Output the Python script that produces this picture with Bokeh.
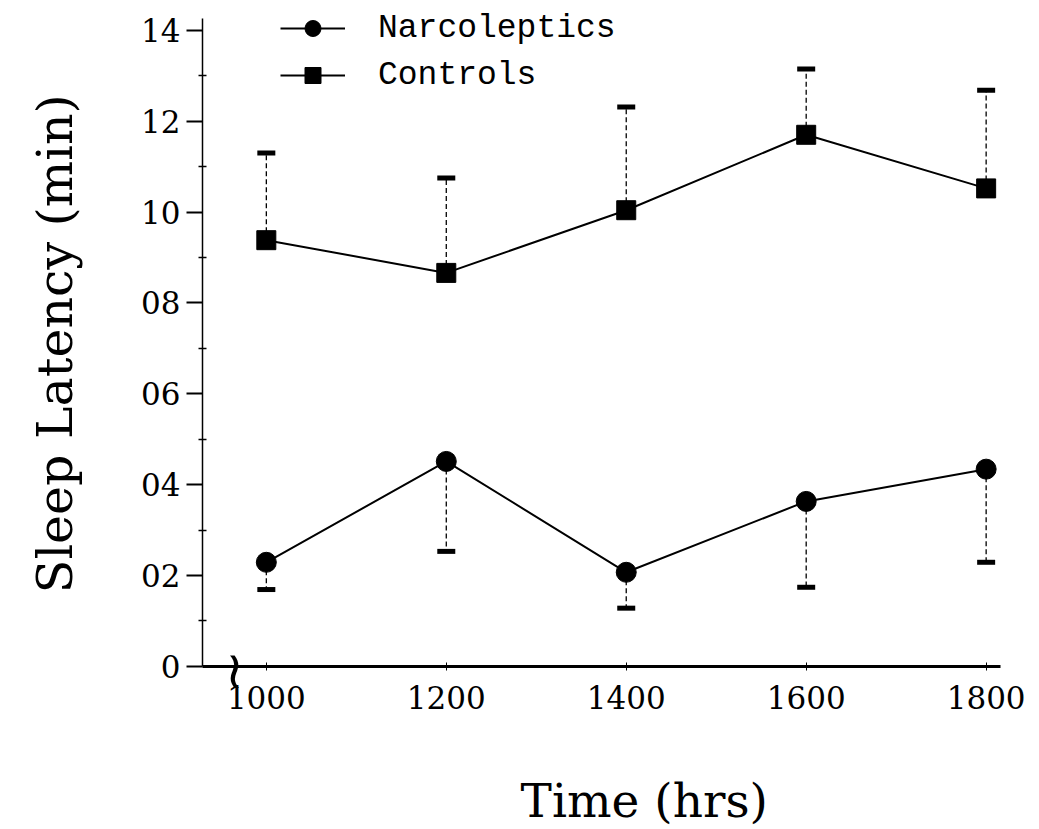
import math
from bokeh.plotting import figure
from bokeh.models import Range1d, FixedTicker, Legend, LegendItem, Label, ColumnDataSource
from bokeh.embed import file_html
from bokeh.resources import INLINE

# Mean sleep latency (min) at each nap time, with standard errors
hours = [1000, 1200, 1400, 1600, 1800]
narcoleptics = [2.29, 4.51, 2.07, 3.63, 4.34]
narcoleptics_se = [0.60, 1.98, 0.79, 1.89, 2.05]
controls = [9.38, 8.66, 10.04, 11.70, 10.52]
controls_se = [1.92, 2.09, 2.27, 1.45, 2.16]

y_ticks = [0, 2, 4, 6, 8, 10, 12, 14]
y_tick_labels = ["0", "02", "04", "06", "08", "10", "12", "14"]
y_minor_ticks = [1, 3, 5, 7, 9, 11, 13]

TITLE_FONT = "DejaVu Serif"
TICK_FONT = "DejaVu Serif"
LEGEND_FONT = "Liberation Mono"

# The plotting area fills the whole canvas; both axes are pinned at the
# origin of the drawn region and limited with explicit bounds.
x_lo, x_hi = 929, 1816        # extent of the drawn x axis
y_lo, y_hi = 0, 14.26         # extent of the drawn y axis
x_start, x_end = 704.56, 1859.3
y_start, y_end = -3.592, 14.656

p = figure(width=1039, height=829, output_backend="svg", toolbar_location=None,
           x_range=Range1d(x_start, x_end), y_range=Range1d(y_start, y_end),
           min_border_left=0, min_border_right=0,
           min_border_top=0, min_border_bottom=0)
p.outline_line_color = None
p.xgrid.visible = False
p.ygrid.visible = False
p.background_fill_color = "white"
p.border_fill_color = "white"

# x axis at y = 0
xa = p.xaxis[0]
xa.fixed_location = y_lo
xa.bounds = (x_lo, x_hi)
xa.ticker = FixedTicker(ticks=hours)
xa.axis_line_width = 3
xa.axis_line_color = "black"
xa.major_tick_in = 4
xa.major_tick_out = 4
xa.major_tick_line_width = 1
xa.minor_tick_line_color = None
xa.major_label_text_font = TICK_FONT
xa.major_label_text_font_size = "31px"
xa.major_label_text_color = "black"
xa.major_label_standoff = 16

# y axis at the left end of the x axis
ya = p.yaxis[0]
ya.fixed_location = x_lo
ya.bounds = (y_lo, y_hi)
ya.ticker = FixedTicker(ticks=y_ticks, minor_ticks=y_minor_ticks)
ya.major_label_overrides = {t: s for t, s in zip(y_ticks, y_tick_labels)}
ya.axis_line_width = 1.5
ya.axis_line_color = "black"
ya.major_tick_in = 0
ya.major_tick_out = 16
ya.major_tick_line_width = 2
ya.minor_tick_in = 4
ya.minor_tick_out = 4
ya.minor_tick_line_width = 1.5
ya.major_label_text_font = TICK_FONT
ya.major_label_text_font_size = "31px"
ya.major_label_text_color = "black"
ya.major_label_standoff = 6

# axis titles
p.add_layout(Label(x=1420, y=-2.95, text="Time (hrs)", text_font=TITLE_FONT,
                   text_font_size="47px", text_align="center",
                   text_baseline="middle", text_color="black"))
p.add_layout(Label(x=765.7, y=7.1, text="Sleep Latency (min)", angle=math.pi / 2,
                   text_font=TITLE_FONT, text_font_size="49px",
                   text_align="center", text_baseline="middle",
                   text_color="black"))

# axis break mark between the corner and the first tick
p.add_layout(Label(x=(x_lo + hours[0]) / 2, y=y_lo - 0.08, text="\u2240",
                   text_font="DejaVu Sans", text_font_size="52px",
                   text_align="center", text_baseline="middle",
                   text_color="black"))

narc_lo = [m - s for m, s in zip(narcoleptics, narcoleptics_se)]
ctrl_hi = [m + s for m, s in zip(controls, controls_se)]

src = ColumnDataSource(dict(hours=hours, narc=narcoleptics, narc_lo=narc_lo,
                            ctrl=controls, ctrl_hi=ctrl_hi))

# error bars: narcoleptics downward, controls upward
p.segment(x0="hours", y0="narc", x1="hours", y1="narc_lo", source=src,
          line_color="black", line_width=1.3, line_dash="5 3")
p.scatter(x="hours", y="narc_lo", source=src, marker="dash", size=18,
          line_color="black", line_width=5)
p.segment(x0="hours", y0="ctrl", x1="hours", y1="ctrl_hi", source=src,
          line_color="black", line_width=1.3, line_dash="5 3")
p.scatter(x="hours", y="ctrl_hi", source=src, marker="dash", size=18,
          line_color="black", line_width=5)

# series lines
narc_line = p.line(x="hours", y="narc", source=src, line_color="black", line_width=2)
ctrl_line = p.line(x="hours", y="ctrl", source=src, line_color="black", line_width=2)

# small markers used as legend keys (covered by the large markers below)
narc_key = p.scatter(x="hours", y="narc", source=src, marker="circle", size=11,
                     fill_color="black", line_color="black")
ctrl_key = p.scatter(x="hours", y="ctrl", source=src, marker="square", size=10,
                     fill_color="black", line_color="black")

p.scatter(x="hours", y="narc", source=src, marker="circle", size=20,
          fill_color="black", line_color="black")
p.scatter(x="hours", y="ctrl", source=src, marker="square", size=19,
          fill_color="black", line_color="black")

legend = Legend(items=[
    LegendItem(label="Narcoleptics", renderers=[narc_line, narc_key]),
    LegendItem(label="Controls", renderers=[ctrl_line, ctrl_key]),
], location=(280, 829 - 95))
legend.glyph_width = 65
legend.glyph_height = 40
legend.label_height = 40
legend.spacing = 7
legend.padding = 0
legend.margin = 0
legend.label_standoff = 33
legend.label_text_font = LEGEND_FONT
legend.label_text_font_size = "33px"
legend.label_text_color = "black"
legend.border_line_color = None
legend.background_fill_alpha = 0
p.add_layout(legend)

open("out.html", "w").write(file_html(p, INLINE))
